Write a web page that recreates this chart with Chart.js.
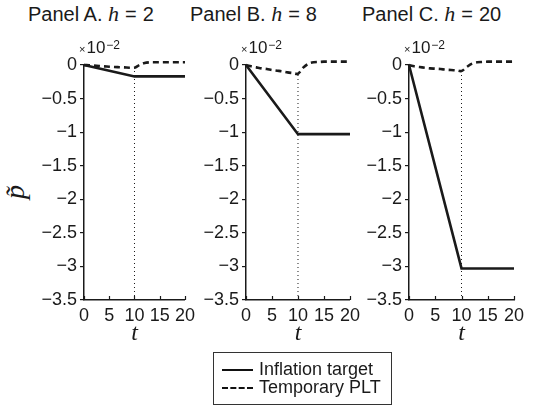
<!DOCTYPE html>
<html>
<head>
<meta charset="utf-8">
<script src="https://cdn.jsdelivr.net/npm/chart.js@4.4.1/dist/chart.umd.min.js"></script>
<style>
  body { margin: 0; background: #fff; width: 535px; height: 406px; position: relative; overflow: hidden;
         font-family: "Liberation Sans", Arial, sans-serif; color: #1a1a1a; }
  canvas { position: absolute; }
  .title { position: absolute; top: 2px; font-size: 20px; line-height: 24px; white-space: nowrap; }
  .title i { font-family: "Liberation Serif", serif; font-size: 22px; }
  .title b { font-weight: normal; margin: 0 6px; }
  .ylab { position: absolute; left: 8px; top: 176px; font-family: "Liberation Serif", serif; font-style: italic;
          font-size: 28px; transform: rotate(-90deg); transform-origin: center; }
  .legend { position: absolute; left: 213px; top: 352px; width: 177px; height: 51px; border: 1px solid #333; font-size: 18px; }
  .legend div { position: absolute; left: 8px; height: 18px; line-height: 18px; white-space: nowrap; }
  .legend span.ln { display: inline-block; width: 31px; vertical-align: middle; margin-right: 6px; }
</style>
</head>
<body>
<div class="title" style="left:28px">Panel A. <i>h</i><b>=</b>2</div>
<div class="title" style="left:190px">Panel B. <i>h</i><b>=</b>8</div>
<div class="title" style="left:362px">Panel C. <i>h</i><b>=</b>20</div>
<div class="ylab">p&#771;</div>
<canvas id="cA" width="200" height="318" style="left:0;top:30px"></canvas>
<canvas id="cB" width="170" height="318" style="left:195px;top:30px"></canvas>
<canvas id="cC" width="175" height="318" style="left:360px;top:30px"></canvas>
<div class="legend">
  <div style="top:7px"><span class="ln" style="border-top:2.5px solid #111"></span>Inflation target</div>
  <div style="top:25px"><span class="ln" style="border-top:2.5px dashed #111"></span>Temporary PLT</div>
</div>
<script>
// values in units of 10^-2
const tSolid = [0, 10, 20];
const inflA = [0, -0.17, -0.17];
const inflB = [0, -1.03, -1.03];
const inflC = [0, -3.03, -3.03];

const tDash = [0, 1, 2, 3, 4, 5, 6, 7, 8, 9, 10, 11, 12, 13, 14, 15, 16, 17, 18, 19, 20];
const pltA = [0, -0.005, -0.01, -0.015, -0.02, -0.025, -0.03, -0.033, -0.036, -0.04, -0.04, 0.0, 0.03, 0.04, 0.04, 0.04, 0.04, 0.04, 0.04, 0.04, 0.04];
const pltB = [0, -0.02, -0.035, -0.05, -0.06, -0.075, -0.085, -0.095, -0.11, -0.12, -0.13, -0.04, 0.02, 0.04, 0.045, 0.05, 0.05, 0.05, 0.05, 0.05, 0.05];
const pltC = [0, -0.02, -0.03, -0.04, -0.05, -0.055, -0.06, -0.07, -0.075, -0.08, -0.09, -0.03, 0.02, 0.04, 0.045, 0.05, 0.05, 0.05, 0.05, 0.05, 0.05];

const tMark = [10, 10];
const yTicks = [0, -0.5, -1, -1.5, -2, -2.5, -3, -3.5];
const xTicks = [0, 5, 10, 15, 20];

const ink = '#1a1a1a';
const tickFont = { family: 'Liberation Sans', size: 18 };

function pts(xs, ys) {
    return xs.map((x, i) => ({ x: x, y: ys[i] }));
}

// draws the x10^-2 label and the inward x ticks
const extras = {
    id: 'extras',
    afterDraw(chart) {
        const ctx = chart.ctx;
        const a = chart.chartArea;
        const xs = chart.scales.x;
        ctx.save();
        ctx.strokeStyle = ink;
        ctx.lineWidth = 1.2;
        xTicks.forEach(v => {
            const px = Math.round(xs.getPixelForValue(v)) + 0.5;
            ctx.beginPath();
            ctx.moveTo(px, a.bottom);
            ctx.lineTo(px, a.bottom - 4);
            ctx.stroke();
        });
        ctx.fillStyle = ink;
        ctx.textBaseline = 'alphabetic';
        let x = a.left - 5;
        const y = a.top - 12;
        ctx.font = '11px "Liberation Sans"';
        ctx.fillText('\u00d7', x, y);
        x += ctx.measureText('\u00d7').width + 1;
        ctx.font = '17px "Liberation Sans"';
        ctx.fillText('10', x, y);
        x += ctx.measureText('10').width + 1;
        ctx.font = '12px "Liberation Sans"';
        ctx.fillText('\u22122', x, y - 4);
        ctx.restore();
    }
};

function panel(id, infl, plt, yAxisW, padRight) {
    new Chart(document.getElementById(id), {
        type: 'line',
        data: {
            datasets: [{
                label: 'Inflation target',
                data: pts(tSolid, infl),
                borderColor: ink,
                borderWidth: 2.6,
                pointRadius: 0,
                tension: 0,
                clip: false
            }, {
                label: 'Temporary PLT',
                data: pts(tDash, plt),
                borderColor: ink,
                borderWidth: 2.6,
                borderDash: [6, 4],
                pointRadius: 0,
                tension: 0.3,
                clip: false
            }, {
                label: 'mark',
                data: pts(tMark, [-3.5, plt[10]]),
                borderColor: ink,
                borderWidth: 1,
                borderDash: [1, 3],
                pointRadius: 0
            }]
        },
        options: {
            responsive: false,
            animation: false,
            layout: { padding: { top: 35, right: padRight, left: 0, bottom: 0 } },
            plugins: { legend: { display: false }, tooltip: { enabled: false } },
            scales: {
                x: {
                    type: 'linear',
                    min: 0,
                    max: 20,
                    afterFit: s => { s.height = 48; },
                    afterBuildTicks: s => { s.ticks = xTicks.map(v => ({ value: v })); },
                    grid: { display: false, drawTicks: false },
                    border: { display: true, color: ink, width: 1.5 },
                    ticks: { color: ink, font: tickFont, padding: 5, maxRotation: 0 },
                    title: { display: true, text: 't', color: ink, padding: 0,
                             font: { family: 'Liberation Serif', style: 'italic', size: 24 } }
                },
                y: {
                    min: -3.5,
                    max: 0,
                    afterFit: s => { s.width = yAxisW; },
                    afterBuildTicks: s => { s.ticks = yTicks.map(v => ({ value: v })); },
                    grid: { drawOnChartArea: false, tickLength: 4, color: ink, lineWidth: 1.2 },
                    border: { display: true, color: ink, width: 1.5 },
                    ticks: {
                        color: ink, font: tickFont, padding: 3,
                        callback: v => v === 0 ? '0' : '\u2212' + Math.abs(v)
                    }
                }
            }
        },
        plugins: [extras]
    });
}

panel('cA', inflA, pltA, 84, 11);
panel('cB', inflB, pltB, 51, 13);
panel('cC', inflC, pltC, 49, 21);
</script>
</body>
</html>
